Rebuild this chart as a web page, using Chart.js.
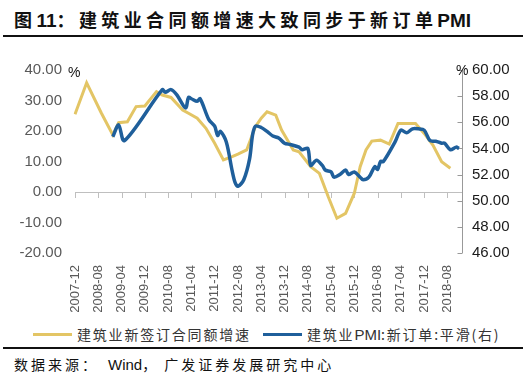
<!DOCTYPE html>
<html><head><meta charset="utf-8">
<script src="https://cdn.jsdelivr.net/npm/chart.js@4/dist/chart.umd.min.js"></script>
<style>
html,body{margin:0;padding:0;background:#fff;}
body{width:531px;height:384px;position:relative;overflow:hidden;font-family:"Noto Sans CJK SC","Liberation Sans",sans-serif;}
#title{position:absolute;left:14px;top:6px;font-size:18px;font-weight:bold;color:#111;white-space:nowrap;}
#title .c{letter-spacing:4.4px;}
#title .l{font-family:"Liberation Sans",sans-serif;letter-spacing:0;font-size:19px;}
.rule{position:absolute;left:3px;width:520px;height:2px;background:#111;}
#wrap{position:absolute;left:0;top:40px;width:531px;height:280px;}
.pct{position:absolute;font-family:"Liberation Sans",sans-serif;font-size:14px;color:#111;}
#legend{position:absolute;top:324px;left:0;width:531px;height:20px;font-size:14px;color:#333;white-space:nowrap;}
#legend .c{letter-spacing:1.8px;}
#legend .l{font-family:"Liberation Sans",sans-serif;letter-spacing:0;font-size:15px;}
.sw{position:absolute;top:9px;height:3px;width:39px;}
.lt{position:absolute;top:0;}
#source{position:absolute;left:14px;top:354px;font-size:14px;color:#111;white-space:nowrap;}
#source .c{letter-spacing:3px;}
#source .l{font-family:"Liberation Sans",sans-serif;font-size:15px;letter-spacing:0;margin-left:9px;}
#source .g{margin-left:5px;}
</style></head>
<body>
<div id="title"><span class="c">图</span><span class="l">11</span><span class="c">：建筑业合同额增速大致同步于新订单</span><span class="l">PMI</span></div>
<div class="rule" style="top:35px"></div>
<div id="wrap"><canvas id="c" width="531" height="280"></canvas></div>
<div class="pct" style="left:68px;top:64px">%</div>
<div class="pct" style="left:456px;top:62px">%</div>
<div id="legend">
  <div class="sw" style="left:33px;background:#E3C565"></div><div class="lt c" style="left:77px">建筑业新签订合同额增速</div>
  <div class="sw" style="left:263px;background:#1F5F9B"></div><div class="lt" style="left:307px"><span class="c">建筑业</span><span class="l">PMI</span><span class="c">:新订单:平滑(右)</span></div>
</div>
<div class="rule" style="top:347px"></div>
<div id="source"><span class="c">数据来源：</span><span class="l">Wind</span><span class="c">，</span><span class="c g">广发证券发展研究中心</span></div>
<script>
// month labels 2007-12 .. 2019-01
const labels = [];
for (let i = 0; i < 134; i++) {
  const t = 2007 * 12 + 11 + i;
  const y = Math.floor(t / 12), m = t % 12 + 1;
  labels.push(y + '-' + (m < 10 ? '0' + m : m));
}
const contractDates = ['2007-12','2008-04','2008-09','2009-01','2009-03','2009-06','2009-09','2009-12','2010-04','2010-06','2010-09','2011-01','2011-03','2011-06','2011-09','2011-12','2012-03','2012-06','2012-08','2012-11','2013-02','2013-04','2013-06','2013-09','2013-11','2014-03','2014-05','2014-09','2014-12','2015-03','2015-06','2015-09','2015-12','2016-02','2016-04','2016-06','2016-09','2016-12','2017-03','2017-09','2017-12','2018-03','2018-06','2018-09'];
const contractValues = [25.5,35.8,26,18.7,22.7,23,28,28.2,32.9,31.8,31,26.9,25.8,24.2,20.9,16,10.5,11.6,12.4,13.8,21.4,24.2,26.3,25.2,20.3,13.8,13.2,8.3,6.1,-1.5,-8.6,-7,-0.4,8.3,13.8,16.7,17,15.7,22.5,22.5,19.2,15.4,9.9,7.8];
const pmiDates = ['2009-01','2009-03','2009-05','2010-06','2010-07','2010-09','2010-11','2011-02','2011-03','2011-04','2011-06','2011-07','2011-10','2011-12','2012-01','2012-02','2012-04','2012-06','2012-07','2012-08','2012-10','2012-12','2013-01','2013-02','2013-04','2013-06','2013-08','2013-10','2013-12','2014-02','2014-05','2014-06','2014-08','2014-09','2014-11','2015-01','2015-02','2015-04','2015-05','2015-07','2015-09','2015-10','2015-12','2016-02','2016-03','2016-05','2016-07','2016-08','2016-09','2016-10','2017-02','2017-04','2017-06','2017-08','2017-10','2017-12','2018-02','2018-04','2018-06','2018-07','2018-09','2018-11','2018-12'];
const pmiValues = [54.9,55.8,54.6,58.5,58.3,58.5,58.1,57.1,57.9,57.8,57.6,57.8,56.2,55.7,55.0,55.3,54.5,52.3,51.4,51.1,51.6,53.2,55.0,55.7,55.6,55.3,54.95,54.8,54.4,54.3,54.1,53.9,54.0,52.7,53.1,52.7,52.35,52.2,51.8,52.0,52.35,52.0,52.2,51.8,51.6,51.8,52.6,52.4,53.0,53.0,54.5,55.4,55.2,55.5,55.5,55.4,54.6,54.55,54.4,54.4,53.9,54.1,54.0];
const leftTicks = [-20, 40, 10];
const rightTicks = [46, 60, 2];

const contractData = contractDates.map((d, i) => ({x: d, y: contractValues[i]}));
const pmiData = pmiDates.map((d, i) => ({x: d, y: pmiValues[i]}));

const axisDeco = {
  id: 'axisDeco',
  beforeDatasetsDraw(chart) {
    const {ctx, chartArea: a, scales} = chart;
    const y0 = scales.y.getPixelForValue(0);
    ctx.save();
    ctx.strokeStyle = '#BFBFBF';
    ctx.lineWidth = 1;
    ctx.beginPath();
    ctx.moveTo(a.left, Math.round(y0) + 0.5);
    ctx.lineTo(a.right, Math.round(y0) + 0.5);
    for (let i = 0; i < labels.length; i += 8) {
      const x = Math.round(scales.x.getPixelForValue(i)) + 0.5;
      ctx.moveTo(x, y0);
      ctx.lineTo(x, y0 + 6);
    }
    ctx.stroke();
    ctx.strokeStyle = '#999';
    ctx.beginPath();
    const xr = Math.round(a.right) + 0.5;
    ctx.moveTo(xr, a.top);
    ctx.lineTo(xr, a.bottom);
    for (let v = rightTicks[0]; v <= rightTicks[1]; v += rightTicks[2]) {
      const y = Math.round(scales.y1.getPixelForValue(v)) + 0.5;
      ctx.moveTo(xr - 5, y);
      ctx.lineTo(xr, y);
    }
    ctx.stroke();
    ctx.restore();
  }
};

new Chart(document.getElementById('c'), {
  type: 'line',
  data: {
    labels: labels,
    datasets: [
      {label: '建筑业新签订合同额增速', data: contractData, yAxisID: 'y', borderColor: '#E3C565', borderWidth: 3, pointRadius: 0, tension: 0, spanGaps: true, order: 2},
      {label: '建筑业PMI:新订单:平滑(右)', data: pmiData, yAxisID: 'y1', borderColor: '#1F5F9B', borderWidth: 3.5, pointRadius: 0, tension: 0.3, spanGaps: true, order: 1}
    ]
  },
  options: {
    responsive: false,
    animation: false,
    layout: {padding: {top: 30, left: 0, right: 0, bottom: 0}},
    plugins: {legend: {display: false}, tooltip: {enabled: false}},
    scales: {
      x: {
        type: 'category',
        offset: false,
        grid: {display: false},
        border: {display: false},
        ticks: {
          autoSkip: false, maxRotation: 90, minRotation: 90, padding: 4,
          color: '#595959', font: {family: 'Liberation Sans', size: 13},
          callback: (v, i) => (i % 8 === 0 ? labels[i] : '')
        },
        afterFit: s => { s.height = 67; }
      },
      y: {
        position: 'left', min: leftTicks[0], max: leftTicks[1],
        grid: {display: false, drawTicks: false}, border: {display: false},
        ticks: {stepSize: leftTicks[2], padding: 13, color: '#595959', font: {family: 'Liberation Sans', size: 15}, callback: v => v.toFixed(2)},
        afterFit: s => { s.width = 75; }
      },
      y1: {
        position: 'right', min: rightTicks[0], max: rightTicks[1],
        grid: {display: false, drawTicks: false}, border: {display: false},
        ticks: {stepSize: rightTicks[2], padding: 10, color: '#1a1a1a', font: {family: 'Liberation Sans', size: 15}, callback: v => v.toFixed(2)},
        afterFit: s => { s.width = 69; }
      }
    }
  },
  plugins: [axisDeco]
});
</script>
</body></html>
